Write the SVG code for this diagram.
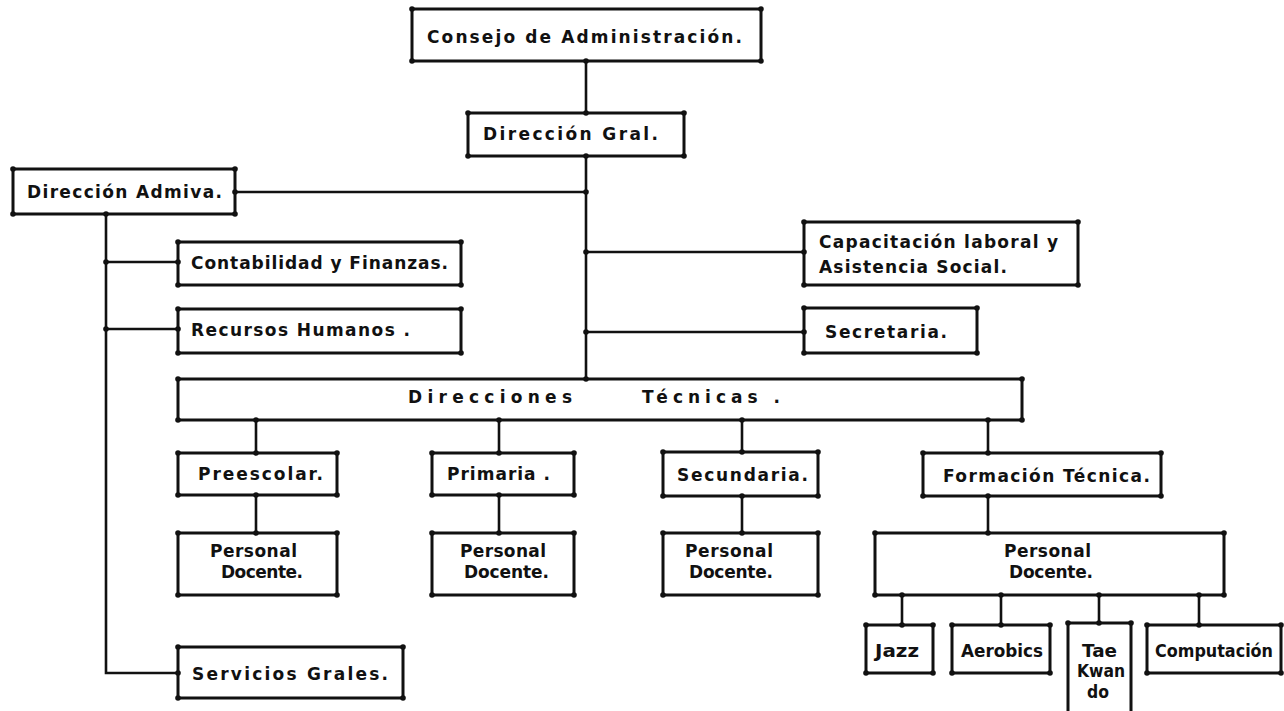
<svg xmlns="http://www.w3.org/2000/svg" width="1284" height="711" viewBox="0 0 1284 711">
<style>
.box{fill:none;stroke:#111;stroke-width:3;stroke-linejoin:miter;marker-start:url(#dot);marker-mid:url(#dot)}
.ln{fill:none;stroke:#111;stroke-width:2.6;marker-start:url(#dot);marker-end:url(#dot)}
.t{font-family:"DejaVu Sans","Liberation Sans",sans-serif;font-weight:bold;font-size:17px;fill:#111}
.s{font-family:"DejaVu Sans","Liberation Sans",sans-serif;font-weight:bold;font-size:17px;fill:#111}
</style>
<defs>
<marker id="dot" markerUnits="userSpaceOnUse" markerWidth="8" markerHeight="8" refX="4" refY="4" viewBox="0 0 8 8"><circle cx="4" cy="4" r="2.8" fill="#111"/></marker>
</defs>
<rect width="1284" height="711" fill="#fff"/>
<g id="connectors">
<path class="ln" d="M586 61V113"/>
<path class="ln" d="M586 156V379"/>
<path class="ln" d="M235 192H586"/>
<path class="ln" d="M586 252H804"/>
<path class="ln" d="M586 332H804"/>
<path class="ln" d="M106 214V673H178"/>
<path class="ln" d="M106 262H178"/>
<path class="ln" d="M106 329H178"/>
<path class="ln" d="M256 420V453"/>
<path class="ln" d="M256 495V533"/>
<path class="ln" d="M499 420V453"/>
<path class="ln" d="M499 495V533"/>
<path class="ln" d="M742 420V452"/>
<path class="ln" d="M742 496V533"/>
<path class="ln" d="M988 420V453"/>
<path class="ln" d="M988 496V533"/>
<path class="ln" d="M902 595V625"/>
<path class="ln" d="M1001 595V625"/>
<path class="ln" d="M1099 595V623"/>
<path class="ln" d="M1199 595V625"/>
</g>
<g id="consejo"><path class="box" d="M412 9H761V61H412Z"/><text class="t" x="427" y="43" textLength="315" lengthAdjust="spacing">Consejo de Administración.</text></g>
<g id="direccion-gral"><path class="box" d="M468 113H684V156H468Z"/><text class="t" x="483" y="140" textLength="175" lengthAdjust="spacing">Dirección Gral.</text></g>
<g id="direccion-admiva"><path class="box" d="M13 169H235V214H13Z"/><text class="t" x="27" y="198" textLength="195" lengthAdjust="spacing">Dirección Admiva.</text></g>
<g id="contabilidad"><path class="box" d="M178 242H461V285H178Z"/><text class="t" x="191" y="269" textLength="257" lengthAdjust="spacing">Contabilidad y Finanzas.</text></g>
<g id="recursos"><path class="box" d="M178 309H461V353H178Z"/><text class="t" x="191" y="336" textLength="219" lengthAdjust="spacing">Recursos Humanos .</text></g>
<g id="capacitacion"><path class="box" d="M804 222H1078V285H804Z"/><text class="t" x="819" y="248" textLength="239" lengthAdjust="spacing">Capacitación laboral y</text><text class="t" x="819" y="273" textLength="188" lengthAdjust="spacing">Asistencia Social.</text></g>
<g id="secretaria"><path class="box" d="M804 308H977V353H804Z"/><text class="t" x="825" y="338" textLength="122" lengthAdjust="spacing">Secretaria.</text></g>
<g id="direcciones-tecnicas"><path class="box" d="M178 379H1022V420H178Z"/><text class="t" x="408" y="403" textLength="164" lengthAdjust="spacing">Direcciones</text><text class="t" x="642" y="403" textLength="138" lengthAdjust="spacing">Técnicas .</text></g>
<g id="preescolar"><path class="box" d="M178 453H337V495H178Z"/><text class="t" x="198" y="480" textLength="125" lengthAdjust="spacing">Preescolar.</text></g>
<g id="pd-preescolar"><path class="box" d="M178 533H337V595H178Z"/><text class="t" x="210" y="557" textLength="87" lengthAdjust="spacing">Personal</text><text class="t" x="221" y="578" textLength="82" lengthAdjust="spacing">Docente.</text></g>
<g id="primaria"><path class="box" d="M432 453H574V495H432Z"/><text class="t" x="447" y="480" textLength="103" lengthAdjust="spacing">Primaria .</text></g>
<g id="pd-primaria"><path class="box" d="M432 533H574V595H432Z"/><text class="t" x="460" y="557" textLength="86" lengthAdjust="spacing">Personal</text><text class="t" x="464" y="578" textLength="85" lengthAdjust="spacing">Docente.</text></g>
<g id="secundaria"><path class="box" d="M663 452H818V496H663Z"/><text class="t" x="677" y="481" textLength="131" lengthAdjust="spacing">Secundaria.</text></g>
<g id="pd-secundaria"><path class="box" d="M663 533H818V595H663Z"/><text class="t" x="685" y="557" textLength="88" lengthAdjust="spacing">Personal</text><text class="t" x="689" y="578" textLength="84" lengthAdjust="spacing">Docente.</text></g>
<g id="formacion-tecnica"><path class="box" d="M923 453H1161V496H923Z"/><text class="t" x="943" y="482" textLength="207" lengthAdjust="spacing">Formación Técnica.</text></g>
<g id="pd-formacion"><path class="box" d="M875 533H1224V595H875Z"/><text class="t" x="1004" y="557" textLength="87" lengthAdjust="spacing">Personal</text><text class="t" x="1009" y="578" textLength="84" lengthAdjust="spacing">Docente.</text></g>
<g id="jazz"><path class="box" d="M866 625H933V673H866Z"/><text class="s" x="875" y="657" textLength="44" lengthAdjust="spacingAndGlyphs">Jazz</text></g>
<g id="aerobics"><path class="box" d="M952 625H1050V673H952Z"/><text class="s" x="961" y="657" textLength="82" lengthAdjust="spacingAndGlyphs">Aerobics</text></g>
<g id="taekwando"><path class="box" d="M1068 716V623H1131V716"/><text class="s" x="1082" y="657" textLength="35" lengthAdjust="spacingAndGlyphs">Tae</text><text class="s" x="1077" y="677" textLength="48" lengthAdjust="spacingAndGlyphs">Kwan</text><text class="s" x="1087" y="698" textLength="22" lengthAdjust="spacingAndGlyphs">do</text></g>
<g id="computacion"><path class="box" d="M1147 625H1281V673H1147Z"/><text class="s" x="1155" y="657" textLength="118" lengthAdjust="spacingAndGlyphs">Computación</text></g>
<g id="servicios"><path class="box" d="M178 647H403V698H178Z"/><text class="t" x="192" y="680" textLength="196" lengthAdjust="spacing">Servicios Grales.</text></g>
</svg>
